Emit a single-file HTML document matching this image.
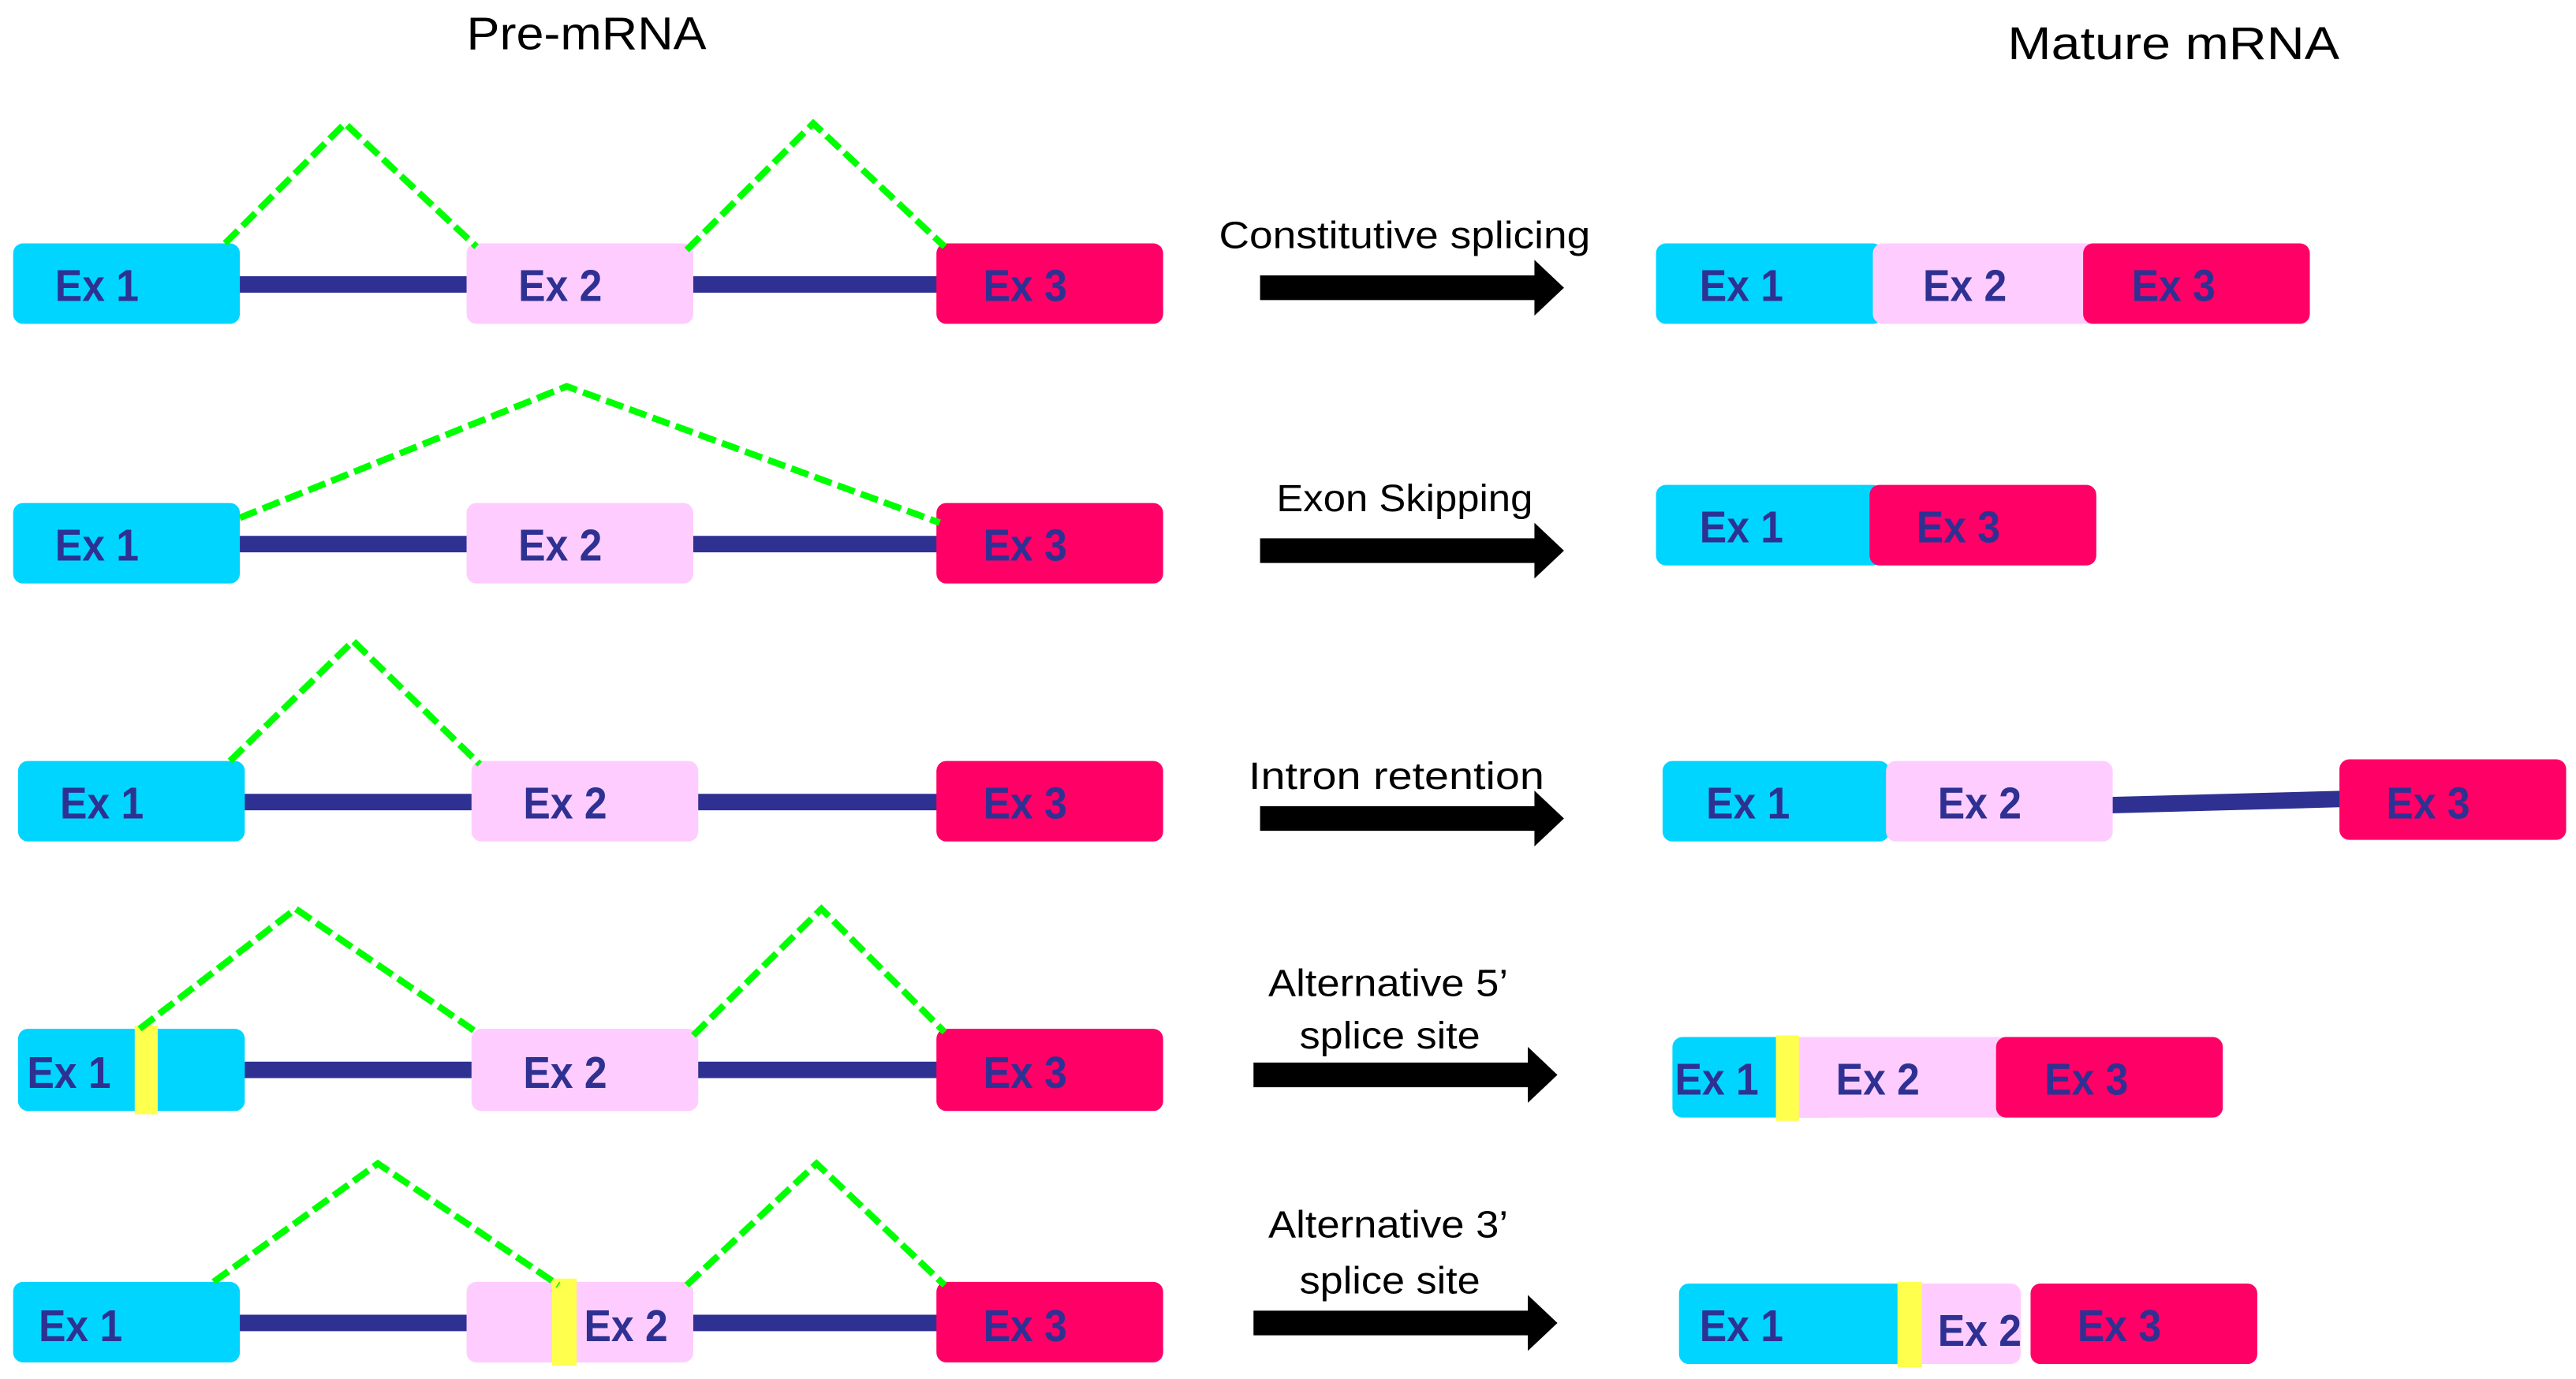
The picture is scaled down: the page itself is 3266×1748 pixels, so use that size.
<!DOCTYPE html>
<html><head><meta charset="utf-8"><style>html,body{margin:0;padding:0;background:#fff}svg{display:block}</style></head>
<body>
<svg width="3266" height="1748" viewBox="0 0 1568 839" xmlns="http://www.w3.org/2000/svg">
<defs>
<g id="arr"><polygon points="0,-7.5 167,-7.5 167,-17 185,0 167,17 167,7.5 0,7.5" fill="#000"/></g>
</defs>
<style>
.t{font-family:"Liberation Sans",sans-serif;fill:#000}
.e{font-family:"Liberation Sans",sans-serif;font-weight:bold;fill:#2E3192;font-size:27px}
.g{stroke:#00FF00;stroke-width:4;stroke-dasharray:11,4;fill:none}
.l{stroke:#2E3192;stroke-width:10}
</style>
<text class="t" x="357" y="30" font-size="28" text-anchor="middle" textLength="146" lengthAdjust="spacingAndGlyphs">Pre-mRNA</text>
<text class="t" x="1323" y="36" font-size="28" text-anchor="middle" textLength="202" lengthAdjust="spacingAndGlyphs">Mature mRNA</text>

<!-- Row 1 -->
<line class="l" x1="140" y1="173" x2="290" y2="173"/><line class="l" x1="416" y1="173" x2="576" y2="173"/>
<rect x="8" y="148" width="138" height="49" rx="6" fill="#00D5FF"/>
<rect x="284" y="148" width="138" height="49" rx="6" fill="#FFCCFF"/>
<rect x="570" y="148" width="138" height="49" rx="6" fill="#FF0066"/>
<polyline class="g" points="137,148 210,75 290,150"/><polyline class="g" points="418,152 495,75 575,150"/>
<text class="e" x="59" y="183" text-anchor="middle" textLength="51" lengthAdjust="spacingAndGlyphs">Ex 1</text><text class="e" x="341" y="183" text-anchor="middle" textLength="51" lengthAdjust="spacingAndGlyphs">Ex 2</text><text class="e" x="624" y="183" text-anchor="middle" textLength="51" lengthAdjust="spacingAndGlyphs">Ex 3</text>
<text class="t" x="855" y="151" font-size="23" text-anchor="middle" textLength="226" lengthAdjust="spacingAndGlyphs">Constitutive splicing</text>
<use href="#arr" x="767" y="175"/>
<rect x="1008" y="148" width="138" height="49" rx="6" fill="#00D5FF"/>
<rect x="1140" y="148" width="138" height="49" rx="6" fill="#FFCCFF"/>
<rect x="1268" y="148" width="138" height="49" rx="6" fill="#FF0066"/>
<text class="e" x="1060" y="183" text-anchor="middle" textLength="51" lengthAdjust="spacingAndGlyphs">Ex 1</text><text class="e" x="1196" y="183" text-anchor="middle" textLength="51" lengthAdjust="spacingAndGlyphs">Ex 2</text><text class="e" x="1323" y="183" text-anchor="middle" textLength="51" lengthAdjust="spacingAndGlyphs">Ex 3</text>

<!-- Row 2 -->
<line class="l" x1="140" y1="331" x2="290" y2="331"/><line class="l" x1="416" y1="331" x2="576" y2="331"/>
<rect x="8" y="306" width="138" height="49" rx="6" fill="#00D5FF"/>
<rect x="284" y="306" width="138" height="49" rx="6" fill="#FFCCFF"/>
<rect x="570" y="306" width="138" height="49" rx="6" fill="#FF0066"/>
<polyline class="g" points="146,315 345,235 572,318"/>
<text class="e" x="59" y="341" text-anchor="middle" textLength="51" lengthAdjust="spacingAndGlyphs">Ex 1</text><text class="e" x="341" y="341" text-anchor="middle" textLength="51" lengthAdjust="spacingAndGlyphs">Ex 2</text><text class="e" x="624" y="341" text-anchor="middle" textLength="51" lengthAdjust="spacingAndGlyphs">Ex 3</text>
<text class="t" x="855" y="311" font-size="23" text-anchor="middle" textLength="156" lengthAdjust="spacingAndGlyphs">Exon Skipping</text>
<use href="#arr" x="767" y="335"/>
<rect x="1008" y="295" width="138" height="49" rx="6" fill="#00D5FF"/>
<rect x="1138" y="295" width="138" height="49" rx="6" fill="#FF0066"/>
<text class="e" x="1060" y="330" text-anchor="middle" textLength="51" lengthAdjust="spacingAndGlyphs">Ex 1</text><text class="e" x="1192" y="330" text-anchor="middle" textLength="51" lengthAdjust="spacingAndGlyphs">Ex 3</text>

<!-- Row 3 -->
<line class="l" x1="143" y1="488" x2="293" y2="488"/><line class="l" x1="419" y1="488" x2="576" y2="488"/>
<rect x="11" y="463" width="138" height="49" rx="6" fill="#00D5FF"/>
<rect x="287" y="463" width="138" height="49" rx="6" fill="#FFCCFF"/>
<rect x="570" y="463" width="138" height="49" rx="6" fill="#FF0066"/>
<polyline class="g" points="140,463 215,390 292,465"/>
<text class="e" x="62" y="498" text-anchor="middle" textLength="51" lengthAdjust="spacingAndGlyphs">Ex 1</text><text class="e" x="344" y="498" text-anchor="middle" textLength="51" lengthAdjust="spacingAndGlyphs">Ex 2</text><text class="e" x="624" y="498" text-anchor="middle" textLength="51" lengthAdjust="spacingAndGlyphs">Ex 3</text>
<text class="t" x="850" y="480" font-size="23" text-anchor="middle" textLength="180" lengthAdjust="spacingAndGlyphs">Intron retention</text>
<use href="#arr" x="767" y="498"/>
<line class="l" x1="1280" y1="490" x2="1430" y2="486"/>
<rect x="1012" y="463" width="138" height="49" rx="6" fill="#00D5FF"/>
<rect x="1148" y="463" width="138" height="49" rx="6" fill="#FFCCFF"/>
<rect x="1424" y="462" width="138" height="49" rx="6" fill="#FF0066"/>
<text class="e" x="1064" y="498" text-anchor="middle" textLength="51" lengthAdjust="spacingAndGlyphs">Ex 1</text><text class="e" x="1205" y="498" text-anchor="middle" textLength="51" lengthAdjust="spacingAndGlyphs">Ex 2</text><text class="e" x="1478" y="498" text-anchor="middle" textLength="51" lengthAdjust="spacingAndGlyphs">Ex 3</text>

<!-- Row 4 -->
<line class="l" x1="143" y1="651" x2="293" y2="651"/><line class="l" x1="419" y1="651" x2="576" y2="651"/>
<rect x="11" y="626" width="138" height="50" rx="6" fill="#00D5FF"/>
<rect x="82" y="624" width="14" height="54" fill="#FFFF4D"/>
<rect x="287" y="626" width="138" height="50" rx="6" fill="#FFCCFF"/>
<rect x="570" y="626" width="138" height="50" rx="6" fill="#FF0066"/>
<polyline class="g" points="85,626 180,553 290,628"/><polyline class="g" points="422,630 500,553 575,628"/>
<text class="e" x="42" y="662" text-anchor="middle" textLength="51" lengthAdjust="spacingAndGlyphs">Ex 1</text><text class="e" x="344" y="662" text-anchor="middle" textLength="51" lengthAdjust="spacingAndGlyphs">Ex 2</text><text class="e" x="624" y="662" text-anchor="middle" textLength="51" lengthAdjust="spacingAndGlyphs">Ex 3</text>
<text class="t" x="845" y="606" font-size="23" text-anchor="middle" textLength="146" lengthAdjust="spacingAndGlyphs">Alternative 5’</text>
<text class="t" x="846" y="638" font-size="23" text-anchor="middle" textLength="110" lengthAdjust="spacingAndGlyphs">splice site</text>
<use href="#arr" x="763" y="654"/>
<rect x="1018" y="631" width="100" height="49" rx="6" fill="#00D5FF"/>
<rect x="1090" y="631" width="135" height="49" rx="6" fill="#FFCCFF"/>
<rect x="1094" y="631" width="40" height="49" fill="#FFCCFF"/>
<rect x="1081" y="630" width="14" height="52" fill="#FFFF4D"/>
<rect x="1215" y="631" width="138" height="49" rx="6" fill="#FF0066"/>
<text class="e" x="1045" y="666" text-anchor="middle" textLength="51" lengthAdjust="spacingAndGlyphs">Ex 1</text><text class="e" x="1143" y="666" text-anchor="middle" textLength="51" lengthAdjust="spacingAndGlyphs">Ex 2</text><text class="e" x="1270" y="666" text-anchor="middle" textLength="51" lengthAdjust="spacingAndGlyphs">Ex 3</text>

<!-- Row 5 -->
<line class="l" x1="140" y1="805" x2="290" y2="805"/><line class="l" x1="416" y1="805" x2="576" y2="805"/>
<rect x="8" y="780" width="138" height="49" rx="6" fill="#00D5FF"/>
<rect x="284" y="780" width="138" height="49" rx="6" fill="#FFCCFF"/>
<rect x="336" y="778" width="15" height="53" fill="#FFFF4D"/>
<rect x="570" y="780" width="138" height="49" rx="6" fill="#FF0066"/>
<polyline class="g" points="130,780 230,708 340,782"/><polyline class="g" points="418,782 497,708 575,782"/>
<text class="e" x="49" y="816" text-anchor="middle" textLength="51" lengthAdjust="spacingAndGlyphs">Ex 1</text><text class="e" x="381" y="816" text-anchor="middle" textLength="51" lengthAdjust="spacingAndGlyphs">Ex 2</text><text class="e" x="624" y="816" text-anchor="middle" textLength="51" lengthAdjust="spacingAndGlyphs">Ex 3</text>
<text class="t" x="845" y="753" font-size="23" text-anchor="middle" textLength="146" lengthAdjust="spacingAndGlyphs">Alternative 3’</text>
<text class="t" x="846" y="787" font-size="23" text-anchor="middle" textLength="110" lengthAdjust="spacingAndGlyphs">splice site</text>
<use href="#arr" x="763" y="805"/>
<rect x="1022" y="781" width="145" height="49" rx="6" fill="#00D5FF"/>
<rect x="1160" y="781" width="70" height="49" rx="6" fill="#FFCCFF"/>
<rect x="1155" y="780" width="15" height="52" fill="#FFFF4D"/>
<rect x="1236" y="781" width="138" height="49" rx="6" fill="#FF0066"/>
<text class="e" x="1060" y="816" text-anchor="middle" textLength="51" lengthAdjust="spacingAndGlyphs">Ex 1</text><text class="e" x="1205" y="819" text-anchor="middle" textLength="51" lengthAdjust="spacingAndGlyphs">Ex 2</text><text class="e" x="1290" y="816" text-anchor="middle" textLength="51" lengthAdjust="spacingAndGlyphs">Ex 3</text>
</svg>
</body></html>
